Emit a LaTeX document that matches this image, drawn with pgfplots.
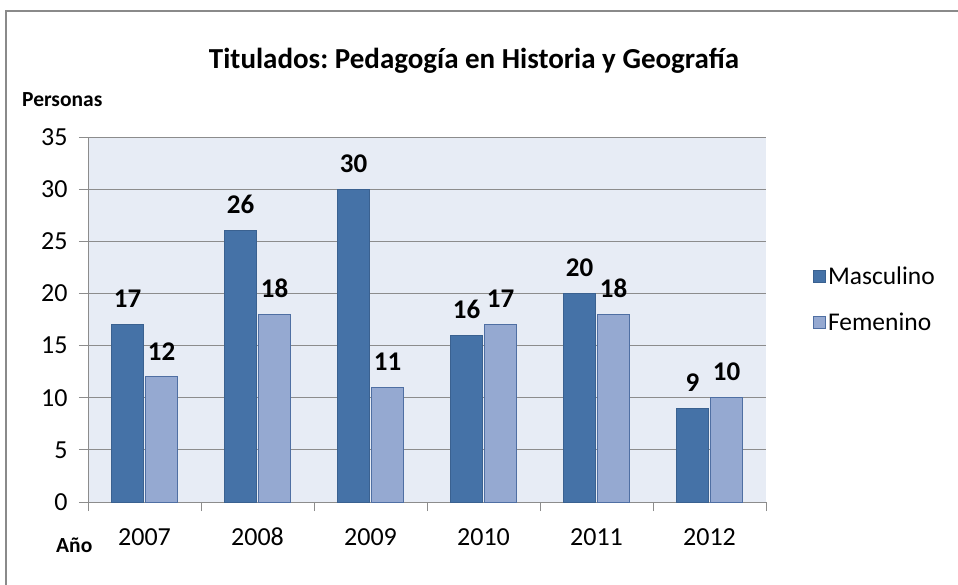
\documentclass[border=0pt]{standalone}
\usepackage{pgfplots}
\pgfplotsset{compat=1.18}
\usepackage{fontspec}
\setmainfont{Carlito}
\frenchspacing
\definecolor{masc}{HTML}{4572A7}
\definecolor{mascedge}{HTML}{3A6190}
\definecolor{fem}{HTML}{95A9D1}
\definecolor{femedge}{HTML}{4F6FA3}
\definecolor{bgplot}{HTML}{E7ECF5}
\definecolor{gridc}{HTML}{8C8C8C}
\definecolor{framec}{HTML}{8A8A8A}
\pgfplotsset{sqlegend/.style={legend image code/.code={\draw[##1] (-4pt,-6pt) rectangle (8pt,6pt);}}}

\begin{document}
\begin{tikzpicture}
\draw[framec, line width=1.5pt] (6pt,-10pt) -- (6pt,573pt) -- (970pt,573pt);
\begin{axis}[
  at={(88pt,82pt)}, anchor=south west,
  scale only axis, width=678pt, height=365pt,
  ybar, bar width=32pt,
  xmin=-0.5, xmax=5.5, ymin=0, ymax=35,
  ytick={0,5,...,35},
  xtick={0,...,5}, xticklabels={2007,2008,2009,2010,2011,2012},
  minor xtick={-0.5,0.5,...,5.5},
  major x tick style={draw=none},
  tick style={gridc, line width=1pt},
  tick align=outside,
  major tick length=9pt, minor tick length=9pt,
  axis lines*=left,
  axis line style={gridc, line width=1pt, -},
  ymajorgrids, grid style={gridc, line width=1pt},
  axis background/.style={fill=bgplot},
  /pgf/number format/assume math mode=true,
  ticklabel style={font=\fontsize{26}{30}\selectfont},
  yticklabel style={xshift=-8pt},
  xticklabel style={text height=17pt, text depth=0pt, yshift=-14pt},
  nodes near coords,
  nodes near coords style={font=\bfseries\fontsize{27}{30}\selectfont, black, yshift=13pt},
  legend style={at={(1.065,0.556)}, anchor=west, draw=none, fill=none,
    font=\fontsize{25.5}{28}\selectfont, row sep=23pt},
  legend cell align=left,
]
\addplot[fill=masc, draw=mascedge, line width=0.8pt, sqlegend]
  coordinates {(0,17) (1,26) (2,30) (3,16) (4,20) (5,9)};
\addlegendentry{Masculino}
\addplot[fill=fem, draw=femedge, line width=0.8pt, sqlegend]
  coordinates {(0,12) (1,18) (2,11) (3,17) (4,18) (5,10)};
\addlegendentry{Femenino}
\end{axis}
\node[font=\bfseries\fontsize{29}{32}\selectfont] at (474pt,523pt) {Titulados: Pedagogía en Historia y Geografía};
\node[font=\bfseries\fontsize{21.5}{24}\selectfont, anchor=west, inner sep=0pt] at (22pt,484pt) {Personas};
\node[font=\bfseries\fontsize{21.5}{24}\selectfont, anchor=west, inner sep=0pt] at (56pt,39pt) {Año};
\pgfresetboundingbox
\path (0,0) rectangle (958pt,584pt);
\end{tikzpicture}
\end{document}
